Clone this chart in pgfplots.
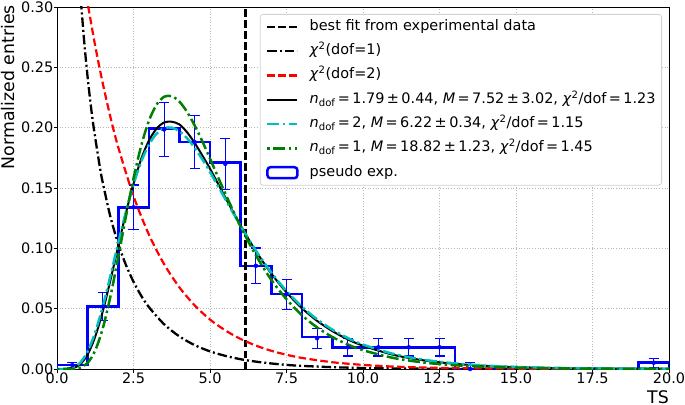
\documentclass[border=0pt]{standalone}
\usepackage{fontspec}
\setmainfont{DejaVu Sans}
\usepackage{pgfplots}
\pgfplotsset{compat=1.18}
\definecolor{mplc}{rgb}{0,0.75,0.75}
\definecolor{mplg}{rgb}{0,0.5,0}
\definecolor{gridc}{rgb}{0.72,0.72,0.72}
\begin{document}
\fontsize{14.5}{17}\selectfont
\begin{tikzpicture}
\begin{axis}[
  at={(0,0)}, anchor=south west,
  scale only axis, width=612bp, height=362bp,
  xmin=0, xmax=20, ymin=0, ymax=0.3,
  xtick={0,2.5,5,7.5,10,12.5,15,17.5,20},
  xticklabels={0.0,2.5,5.0,7.5,10.0,12.5,15.0,17.5,20.0},
  ytick={0,0.05,0.1,0.15,0.2,0.25,0.3},
  yticklabels={0.00,0.05,0.10,0.15,0.20,0.25,0.30},
  tick pos=left, tick align=outside, major tick length=3.5bp,
  every tick/.style={black, line width=0.9bp},
  axis line style={black, line width=0.9bp},
  grid=major,
  major grid style={gridc, line width=0.7bp, dash pattern=on 1bp off 1.7bp},
  font=\fontsize{14.5}{17}\selectfont,
  xticklabel style={inner sep=0pt, anchor=north, font=\fontsize{14.5}{17}\selectfont},
  yticklabel style={inner sep=0pt, anchor=east, font=\fontsize{14.5}{17}\selectfont},
  xlabel={TS},
  xlabel style={at={(axis description cs:1,-0.058)}, anchor=north east, inner sep=0pt, font=\fontsize{17.4}{20}\selectfont},
  ylabel={Normalized entries},
  ylabel style={at={(axis description cs:-0.0686,1.0055)}, anchor=south east, inner sep=0pt, font=\fontsize{17.4}{20}\selectfont},
  legend image code/.code={\draw[#1] (0bp,0bp) -- (30bp,0bp);},
  legend cell align=left,
  legend style={at={(rel axis cs:0.9886,0.9807)}, anchor=north east,
    draw=gray!35, line width=0.8bp, rounded corners=3bp, fill=white,
    inner xsep=6bp, inner ysep=5bp, row sep=9.3bp,
    font=\fontsize{14.5}{17}\selectfont,
    nodes={inner sep=0pt, text height=11bp, text depth=4bp},
    /tikz/every odd column/.append style={column sep=11bp}},
]
% histogram (step outline)
\addplot[blue, line width=2.6bp, const plot, forget plot] coordinates {
(0,0) (0,0.0033) (1,0.0517) (2,0.134) (3,0.1995) (4,0.188) (5,0.171) (6,0.0855)
(7,0.062) (8,0.0265) (9,0.018) (10,0.018) (11,0.018) (12,0.018) (13,0) (14,0)
(15,0) (16,0) (17,0) (18,0) (19,0.0052) (20,0.0052) (20,0)};
% error bars
\addplot[color=blue, draw=blue, only marks, mark=none, forget plot,
  error bars/.cd, y dir=both, y explicit,
  error bar style={draw=blue, color=blue, line width=1.1bp},
  error mark options={draw=blue, color=blue, rotate=90, mark size=5bp, line width=1.1bp}]
coordinates {
(0.5,0.0033) +- (0,0.0019)
(1.5,0.0517) +- (0,0.0115)
(2.5,0.134) +- (0,0.0185)
(3.5,0.1985) +- (0,0.0225)
(4.5,0.188) +- (0,0.022)
(5.5,0.170) +- (0,0.021)
(6.5,0.0855) +- (0,0.0148)
(7.5,0.062) +- (0,0.0125)
(8.5,0.0255) +- (0,0.0083)
(9.5,0.018) +- (0,0.0072)
(10.5,0.018) +- (0,0.0072)
(11.5,0.018) +- (0,0.0072)
(12.5,0.018) +- (0,0.0072)
(13.5,0.0) +- (0,0.0052)
(19.5,0.0052) +- (0,0.0037)
};
% best fit vertical line
\addplot[black, line width=2.2bp, dash pattern=on 7.5bp off 3.5bp] coordinates {(6.16,0) (6.16,0.3)};
\addlegendentry{best fit from experimental data}
% chi2 dof=1
\addplot[black, line width=2.3bp, smooth, dash pattern=on 9.5bp off 3bp on 2bp off 3bp] coordinates {
(0.78,0.3058) (0.8,0.2990) (0.9,0.2681) (1,0.2420) (1.1,0.2195) (1.2,0.1999) (1.4,0.1674)
(1.5,0.1539) (1.75,0.1257) (2,0.1038) (2.25,0.0864) (2.5,0.0723) (2.75,0.0608) (3,0.0514)
(3.5,0.0371) (4,0.0270) (4.5,0.0198) (5,0.0146) (5.5,0.0109) (6,0.0081) (6.5,0.0061)
(7,0.0046) (7.5,0.0034) (8,0.0026) (9,0.0015) (10,0.00085) (11,0.00049) (12,0.00029)
(13,0.00017) (14,0.0001) (16,0.00003) (18,0.00001) (20,0.000004)};
\addlegendentry{\textit{χ}\textsuperscript{2}(dof=1)}
% chi2 dof=2
\addplot[red, line width=2.2bp, smooth, dash pattern=on 7.5bp off 3.5bp] coordinates {
(0.9,0.3188) (1,0.3033) (1.25,0.2676) (1.5,0.2362) (1.75,0.2084) (2,0.1839) (2.5,0.1433)
(3,0.1116) (3.5,0.0869) (4,0.0677) (4.5,0.0527) (5,0.0410) (5.5,0.0320) (6,0.0249)
(6.5,0.0194) (7,0.0151) (7.5,0.0118) (8,0.0092) (9,0.0056) (10,0.0034) (11,0.0020)
(12,0.0012) (13,0.00075) (14,0.00046) (15,0.00028) (16,0.00017) (18,0.00006) (20,0.00002)};
\addlegendentry{\textit{χ}\textsuperscript{2}(dof=2)}
% fit n=1.79
\addplot[black, line width=2bp, smooth] coordinates {
(0,0) (0.25,0.00002) (0.5,0.0006) (0.75,0.0037) (1,0.0120) (1.25,0.0269) (1.5,0.0482)
(1.75,0.0740) (2,0.1017) (2.25,0.1290) (2.5,0.1535) (2.75,0.1739) (3,0.1891) (3.25,0.1991)
(3.5,0.2043) (3.75,0.2049) (4,0.2027) (4.25,0.1962) (4.5,0.1873) (4.75,0.1769) (5,0.1660)
(5.5,0.1422) (6,0.1190) (6.5,0.0977) (7,0.0792) (7.5,0.0635) (8,0.0505) (8.5,0.0399)
(9,0.0314) (9.5,0.0246) (10,0.0193) (11,0.0117) (12,0.0071) (13,0.0043) (14,0.0026)
(15,0.0016) (16,0.0009) (17,0.00057) (18,0.00034) (20,0.00013)};
\addlegendentry{\textit{n}\textsubscript{dof}\,=\,1.79\,±\,0.44, \textit{M}\,=\,7.52\,±\,3.02, \textit{χ}\textsuperscript{2}/dof\,=\,1.23}
% fit n=2
\addplot[mplc, line width=2.5bp, smooth, dash pattern=on 12bp off 3.5bp on 2.5bp off 3.5bp] coordinates {
(0,0) (0.25,0.00004) (0.5,0.00092) (0.75,0.00495) (1,0.01449) (1.25,0.03049) (1.5,0.0522)
(1.75,0.07763) (2,0.10439) (2.25,0.13011) (2.5,0.15295) (2.75,0.17171) (3,0.18574)
(3.25,0.19495) (3.5,0.19953) (3.75,0.20003) (4,0.19703) (4.25,0.19122) (4.5,0.18327)
(4.75,0.17378) (5,0.16325) (5.5,0.14082) (6,0.1186) (6.5,0.09809) (7,0.08003) (7.5,0.0646)
(8,0.05173) (8.5,0.04115) (9,0.0326) (9.5,0.02571) (10,0.02023) (11,0.01244) (12,0.00761)
(13,0.00464) (14,0.00282) (15,0.00171) (16,0.00104) (17,0.00063) (18,0.00038) (19,0.00023)
(20,0.00014)};
\addlegendentry{\textit{n}\textsubscript{dof}\,=\,2, \textit{M}\,=\,6.22\,±\,0.34, \textit{χ}\textsuperscript{2}/dof\,=\,1.15}
% fit n=1
\addplot[mplg, line width=2.5bp, smooth, dash pattern=on 12bp off 3.5bp on 2.5bp off 3.5bp, dash phase=15.5bp] coordinates {
(0,0) (0.25,0) (0.5,0.00007) (0.75,0.00099) (1,0.00506) (1.25,0.01541) (1.5,0.03405)
(1.75,0.0606) (2,0.09256) (2.25,0.12619) (2.5,0.15787) (2.75,0.18487) (3,0.20545)
(3.25,0.21894) (3.5,0.22563) (3.75,0.22607) (4,0.2216) (4.25,0.21307) (4.5,0.20177)
(4.75,0.18866) (5,0.17435) (5.5,0.14542) (6,0.11805) (6.5,0.09416) (7,0.07401)
(7.5,0.05781) (8,0.04466) (8.5,0.03446) (9,0.02649) (9.5,0.02032) (10,0.01556)
(11,0.00911) (12,0.00531) (13,0.00311) (14,0.00182) (15,0.00107) (16,0.00063)
(17,0.00037) (18,0.00022) (20,0.000075)};
\addlegendentry{\textit{n}\textsubscript{dof}\,=\,1, \textit{M}\,=\,18.82\,±\,1.23, \textit{χ}\textsuperscript{2}/dof\,=\,1.45}
\addlegendimage{legend image code/.code={\draw[blue, line width=2.5bp] (0bp,-5.5bp) rectangle (30bp,5.5bp);}}
\addlegendentry{pseudo exp.}
\end{axis}
\pgfresetboundingbox
\path[use as bounding box] (-57bp,-36bp) rectangle (628bp,369bp);
\end{tikzpicture}
\end{document}
